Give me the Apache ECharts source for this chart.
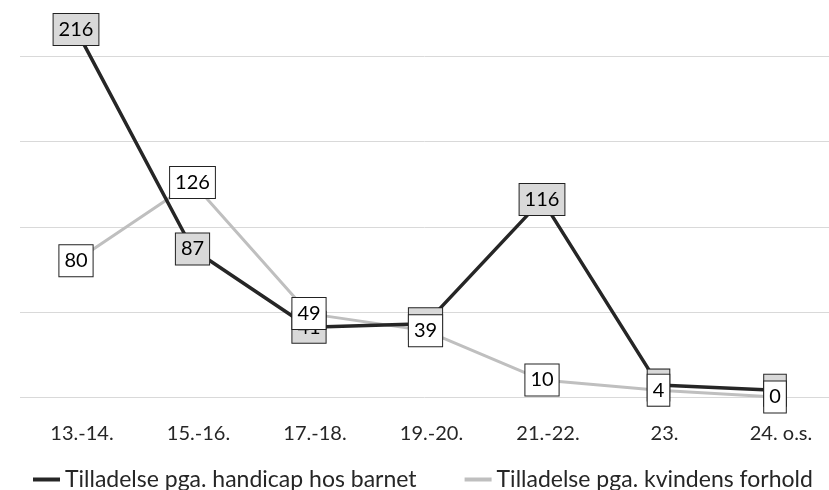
<!DOCTYPE html>
<html><head><meta charset="utf-8">
<script src="https://cdn.jsdelivr.net/npm/echarts@6/dist/echarts.min.js"></script>
<style>html,body{margin:0;padding:0;background:#fff}#c{width:829px;height:490px}</style>
</head><body><div id="c"></div>
<script>
const categories = ['13.-14.', '15.-16.', '17.-18.', '19.-20.', '21.-22.', '23.', '24. o.s.'];
const handicapValues = [216, 87, 41, 43, 116, 7, 4];
const kvindeValues = [80, 126, 49, 39, 10, 4, 0];
const nameDark = 'Tilladelse pga. handicap hos barnet';
const nameLight = 'Tilladelse pga. kvindens forhold';

const FONT = 'Lato, "Open Sans", sans-serif';
const Y_MAX = 233.3;
const chart = echarts.init(document.getElementById('c'), null, {renderer: 'canvas'});

function labelSeries(data, bg, z) {
  return {
    type: 'line', data: data, z: z, silent: true, xAxisIndex: 1, yAxisIndex: 1,
    symbol: 'circle', symbolSize: 1,
    itemStyle: {color: 'rgba(0,0,0,0)'},
    lineStyle: {width: 0, opacity: 0},
    label: {
      show: true, position: 'inside',
      fontFamily: FONT, fontSize: 20, color: '#000',
      backgroundColor: bg, borderColor: '#222', borderWidth: 1,
      padding: [5, 5, 3, 5], lineHeight: 23
    },
    emphasis: {disabled: true}
  };
}

chart.setOption({
  animation: false,
  grid: [
    {left: 20, right: 0, top: 0, bottom: 93},
    {left: 76, right: 54, top: 0, bottom: 93}
  ],
  xAxis: [
    {type: 'category', gridIndex: 0, data: categories, show: false},
    {type: 'category', gridIndex: 1, data: categories, boundaryGap: false,
     axisLine: {show: false}, axisTick: {show: false}, splitLine: {show: false},
     axisLabel: {fontFamily: FONT, fontSize: 20, color: '#262626', margin: 27, interval: 0,
                 padding: [0, 0, 0, 12]}}
  ],
  yAxis: [
    {type: 'value', gridIndex: 0, min: 0, max: Y_MAX, interval: 50,
     axisLabel: {show: false}, axisLine: {show: false}, axisTick: {show: false},
     splitLine: {lineStyle: {color: ['#d9d9d9', '#d9d9d9', '#d9d9d9', '#d9d9d9', '#d9d9d9', 'rgba(0,0,0,0)'], width: 1}}},
    {type: 'value', gridIndex: 1, min: 0, max: Y_MAX, interval: 50, show: false,
     splitLine: {show: false}}
  ],
  legend: {
    top: 463, left: 28, right: 0, itemGap: 48, itemWidth: 27, itemHeight: 4, icon: 'rect',
    textStyle: {fontFamily: FONT, fontSize: 23, color: '#262626'},
    data: [nameDark, nameLight]
  },
  series: [
    {name: nameLight, type: 'line', data: kvindeValues, z: 2, symbol: 'none',
     xAxisIndex: 1, yAxisIndex: 1,
     lineStyle: {color: '#bfbfbf', width: 3}, itemStyle: {color: '#bfbfbf'}},
    {name: nameDark, type: 'line', data: handicapValues, z: 3, symbol: 'none',
     xAxisIndex: 1, yAxisIndex: 1,
     lineStyle: {color: '#262626', width: 3.5}, itemStyle: {color: '#262626'}},
    labelSeries(handicapValues, '#d9d9d9', 4),
    labelSeries(kvindeValues, '#ffffff', 5)
  ]
});
</script></body></html>
